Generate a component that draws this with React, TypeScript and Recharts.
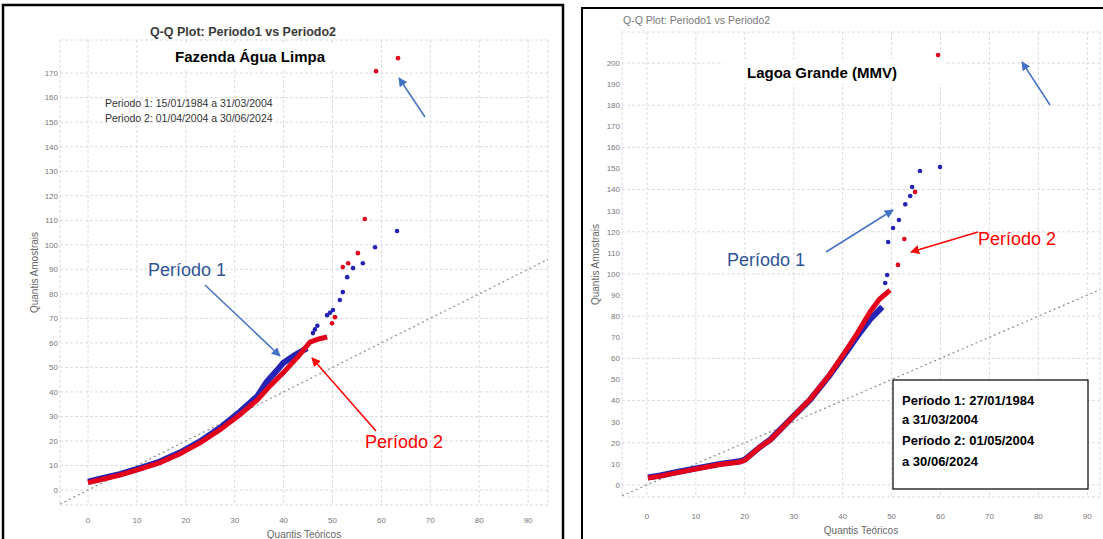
import React from 'react';
import { ScatterChart, Scatter, XAxis, YAxis, CartesianGrid, ReferenceLine } from 'recharts';

// ---------- shared ----------
const xTicks = [0, 10, 20, 30, 40, 50, 60, 70, 80, 90];
const leftYTicks = [0, 10, 20, 30, 40, 50, 60, 70, 80, 90, 100, 110, 120, 130, 140, 150, 160, 170];
const rightYTicks = [0, 10, 20, 30, 40, 50, 60, 70, 80, 90, 100, 110, 120, 130, 140, 150, 160, 170, 180, 190, 200];

const chartTitle = 'Q-Q Plot: Periodo1 vs Periodo2';
const xTitle = 'Quantis Teóricos';
const yTitle = 'Quantis Amostrais';

// ---------- Fazenda Água Limpa (left) ----------
const leftP1Body = [
  { x: 0, y: 3.4 }, { x: 2.5, y: 4.6 }, { x: 6.5, y: 6.5 }, { x: 10.6, y: 8.9 }, { x: 14.7, y: 11.6 },
  { x: 18.8, y: 15.3 }, { x: 22.9, y: 19.8 }, { x: 27, y: 25.4 }, { x: 31.1, y: 32 }, { x: 34.6, y: 38.2 },
  { x: 36.5, y: 44 }, { x: 38.7, y: 48.9 }, { x: 39.9, y: 51.8 }, { x: 42.3, y: 55 }, { x: 44.8, y: 57.9 },
];
const leftP1Tail = [
  { x: 46, y: 64 }, { x: 46.4, y: 65.5 }, { x: 46.9, y: 67 }, { x: 48.9, y: 71.3 }, { x: 49.5, y: 72.3 },
  { x: 50.1, y: 73.4 }, { x: 51.5, y: 77.5 }, { x: 52.1, y: 80.7 }, { x: 53, y: 86.8 }, { x: 54.2, y: 90.5 },
  { x: 56.2, y: 92.5 }, { x: 58.7, y: 99 }, { x: 63.2, y: 105.6 },
];
const leftP2Body = [
  { x: 0, y: 3.0 }, { x: 2.5, y: 4.2 }, { x: 6.5, y: 6.1 }, { x: 10.6, y: 8.5 }, { x: 14.7, y: 11.2 },
  { x: 18.8, y: 14.8 }, { x: 22.9, y: 19.2 }, { x: 27, y: 24.6 }, { x: 31.1, y: 30.8 }, { x: 34.6, y: 36.7 },
  { x: 37, y: 42 }, { x: 40, y: 48 }, { x: 43, y: 54.5 }, { x: 45.4, y: 60.3 }, { x: 47, y: 61.5 }, { x: 48.9, y: 62.4 },
];
const leftP2Tail = [
  { x: 49.9, y: 68 }, { x: 50.5, y: 70.5 }, { x: 52.1, y: 90.9 }, { x: 53.2, y: 92.5 }, { x: 55.2, y: 96.6 },
  { x: 56.6, y: 110.5 }, { x: 58.9, y: 170.8 }, { x: 63.4, y: 176.1 },
];

// ---------- Lagoa Grande (right) ----------
const rightP1Body = [
  { x: 0.2, y: 3.6 }, { x: 2.7, y: 4.5 }, { x: 6.7, y: 6.4 }, { x: 10.8, y: 8.2 }, { x: 14.9, y: 10 },
  { x: 19, y: 11.2 }, { x: 20, y: 12 }, { x: 23.1, y: 18 }, { x: 25.2, y: 21.5 }, { x: 29.2, y: 30.8 },
  { x: 33.3, y: 40.3 }, { x: 37.4, y: 52.1 }, { x: 40.9, y: 63.5 }, { x: 43, y: 70.5 }, { x: 45.6, y: 78.5 }, { x: 48.1, y: 84.4 },
];
const rightP1Tail = [
  { x: 48.7, y: 95.7 }, { x: 49.1, y: 99.5 }, { x: 49.3, y: 115.2 }, { x: 50.3, y: 121.8 }, { x: 51.5, y: 125.6 },
  { x: 52.8, y: 133 }, { x: 53.8, y: 137 }, { x: 54.2, y: 141.2 }, { x: 55.8, y: 148.8 }, { x: 59.9, y: 150.7 },
];
const rightP2Body = [
  { x: 0.2, y: 3.3 }, { x: 2.7, y: 4.2 }, { x: 6.7, y: 6.1 }, { x: 10.8, y: 7.9 }, { x: 14.9, y: 9.7 },
  { x: 19, y: 10.9 }, { x: 20, y: 11.8 }, { x: 23.1, y: 18 }, { x: 25.2, y: 21.3 }, { x: 29.2, y: 30.8 },
  { x: 33.3, y: 40.5 }, { x: 37.4, y: 52.5 }, { x: 40.9, y: 64.5 }, { x: 43, y: 72 }, { x: 45.6, y: 82 },
  { x: 47.5, y: 88 }, { x: 49.7, y: 92.4 },
];
const rightP2Tail = [
  { x: 51.3, y: 104.3 }, { x: 52.6, y: 116.6 }, { x: 54.8, y: 138.9 }, { x: 59.5, y: 203.8 },
];

const P1 = '#2424b4';
const P2 = '#e3001b';
const FONT = '"Liberation Sans", Arial, sans-serif';

const noShape = () => <g />;
const dot = (color: string) => (props: any) => (
  <circle cx={props.cx} cy={props.cy} r={2.3} fill={color} />
);

type PanelProps = {
  width: number; height: number; margin: any;
  yAxisWidth: number; xAxisHeight: number;
  xDomain: [number, number]; yDomain: [number, number]; yTicks: number[];
  xTickMargin: number; xTitleOffset: number; yTitleOffset: number;
  p1Body: any[]; p1Tail: any[]; p2Body: any[]; p2Tail: any[];
};

function QQPanel(p: PanelProps) {
  const lo = Math.max(p.xDomain[0], p.yDomain[0]);
  const hi = Math.min(p.xDomain[1], p.yDomain[1]);
  return (
    <ScatterChart width={p.width} height={p.height} margin={p.margin} style={{ fontFamily: FONT }}>
      <CartesianGrid stroke="#dcdcdc" strokeDasharray="3 2" />
      <XAxis
        type="number" dataKey="x" domain={p.xDomain} ticks={xTicks} allowDataOverflow
        axisLine={false} tickLine={false} tickSize={0} tickMargin={p.xTickMargin} height={p.xAxisHeight}
        tick={{ fontSize: 8, fill: '#777' }}
        label={{ value: xTitle, position: 'insideBottom', offset: p.xTitleOffset, style: { fontSize: 10, fill: '#666' } }}
      />
      <YAxis
        type="number" dataKey="y" domain={p.yDomain} ticks={p.yTicks} allowDataOverflow
        axisLine={false} tickLine={false} tickSize={0} tickMargin={2} width={p.yAxisWidth}
        tick={{ fontSize: 8, fill: '#777' }}
        label={{ value: yTitle, angle: -90, position: 'insideLeft', offset: p.yTitleOffset, style: { textAnchor: 'middle', fontSize: 10, fill: '#666' } }}
      />
      <ReferenceLine segment={[{ x: lo, y: lo }, { x: hi, y: hi }]} stroke="#8c8c8c" strokeDasharray="2 3" strokeWidth={1.2} ifOverflow="hidden" />
      <Scatter data={p.p1Body} line={{ stroke: P1, strokeWidth: 6 }} shape={noShape} isAnimationActive={false} />
      <Scatter data={p.p2Body} line={{ stroke: P2, strokeWidth: 5 }} shape={noShape} isAnimationActive={false} />
      <Scatter data={p.p1Tail} shape={dot(P1)} isAnimationActive={false} />
      <Scatter data={p.p2Tail} shape={dot(P2)} isAnimationActive={false} />
    </ScatterChart>
  );
}

const BLUE_TXT = '#2F5597';
const BLUE_ARR = '#4472C4';
const RED = '#FF0000';

export default function App() {
  return (
    <div style={{ position: 'absolute', left: 0, top: 0, width: 1103, height: 539, background: '#fff', overflow: 'hidden', fontFamily: FONT }}>
      <div style={{ position: 'absolute', left: 0, top: 0 }}>
        <QQPanel
          width={565} height={539} margin={{ top: 40, right: 17, bottom: 0, left: 20 }}
          yAxisWidth={40} xAxisHeight={34} xDomain={[-5.73, 94.07]} yDomain={[-6.1, 183.5]} yTicks={leftYTicks}
          xTickMargin={12} xTitleOffset={1} yTitleOffset={14}
          p1Body={leftP1Body} p1Tail={leftP1Tail} p2Body={leftP2Body} p2Tail={leftP2Tail}
        />
      </div>
      <div style={{ position: 'absolute', left: 580, top: 0 }}>
        <QQPanel
          width={523} height={539} margin={{ top: 32, right: 3, bottom: 0, left: 10 }}
          yAxisWidth={32} xAxisHeight={42} xDomain={[-5.1, 92.6]} yDomain={[-5.7, 214.7]} yTicks={rightYTicks}
          xTickMargin={16} xTitleOffset={5} yTitleOffset={5}
          p1Body={rightP1Body} p1Tail={rightP1Tail} p2Body={rightP2Body} p2Tail={rightP2Tail}
        />
      </div>
      <svg width={1103} height={539} style={{ position: 'absolute', left: 0, top: 0, pointerEvents: 'none' }} fontFamily={FONT}>
        <defs>
          <marker id="hb" viewBox="0 0 10 10" refX="9" refY="5" markerWidth="6" markerHeight="6" orient="auto">
            <path d="M0,0 L10,5 L0,10 z" fill={BLUE_ARR} />
          </marker>
          <marker id="hr" viewBox="0 0 10 10" refX="9" refY="5" markerWidth="6" markerHeight="6" orient="auto">
            <path d="M0,0 L10,5 L0,10 z" fill={RED} />
          </marker>
        </defs>
        {/* panel frames */}
        <rect x={3} y={5} width={560} height={540} fill="none" stroke="#000" strokeWidth={2.5} />
        <rect x={582} y={8} width={530} height={540} fill="none" stroke="#000" strokeWidth={2} />

        {/* left annotations */}
        <text x={243} y={36} textAnchor="middle" fontSize={12.5} fontWeight="bold" fill="#3a3a3a">{chartTitle}</text>
        <rect x={160} y={45} width={186} height={25} fill="#fff" />
        <text x={250} y={62} textAnchor="middle" fontSize={15} fontWeight="bold" fill="#000">Fazenda Água Limpa</text>
        <text x={105} y={107} fontSize={10.5} fill="#333">Periodo 1: 15/01/1984 a 31/03/2004</text>
        <text x={105} y={122} fontSize={10.5} fill="#333">Periodo 2: 01/04/2004 a 30/06/2024</text>
        <text x={148} y={276} fontSize={18} fill={BLUE_TXT}>Período 1</text>
        <line x1={205} y1={285} x2={280} y2={356} stroke={BLUE_ARR} strokeWidth={1.5} markerEnd="url(#hb)" />
        <text x={365} y={448} fontSize={18} fill={RED}>Período 2</text>
        <line x1={376} y1={431} x2={312} y2={358} stroke={RED} strokeWidth={1.5} markerEnd="url(#hr)" />
        <line x1={425} y1={117} x2={399} y2={78} stroke={BLUE_ARR} strokeWidth={1.5} markerEnd="url(#hb)" />

        {/* right annotations */}
        <text x={623} y={24} fontSize={10.5} fill="#777">{chartTitle}</text>
        <rect x={723} y={59} width={222} height={25} fill="#fff" />
        <text x={822} y={78} textAnchor="middle" fontSize={15} fontWeight="bold" fill="#000">Lagoa Grande (MMV)</text>
        <line x1={1050} y1={105} x2={1022} y2={62} stroke={BLUE_ARR} strokeWidth={1.5} markerEnd="url(#hb)" />
        <text x={727} y={266} fontSize={18} fill={BLUE_TXT}>Período 1</text>
        <line x1={826} y1={252} x2={893} y2={210} stroke={BLUE_ARR} strokeWidth={1.5} markerEnd="url(#hb)" />
        <text x={978} y={245} fontSize={18} fill={RED}>Período 2</text>
        <line x1={978} y1={232} x2={911} y2={252} stroke={RED} strokeWidth={1.5} markerEnd="url(#hr)" />
        <rect x={893} y={380} width={195} height={109} fill="#fff" stroke="#000" strokeWidth={1.2} />
        <text x={902} y={405} fontSize={13} fontWeight="bold" fill="#000">Período 1: 27/01/1984</text>
        <text x={902} y={424} fontSize={13} fontWeight="bold" fill="#000">a 31/03/2004</text>
        <text x={902} y={445} fontSize={13} fontWeight="bold" fill="#000">Período 2: 01/05/2004</text>
        <text x={902} y={466} fontSize={13} fontWeight="bold" fill="#000">a 30/06/2024</text>
      </svg>
    </div>
  );
}
